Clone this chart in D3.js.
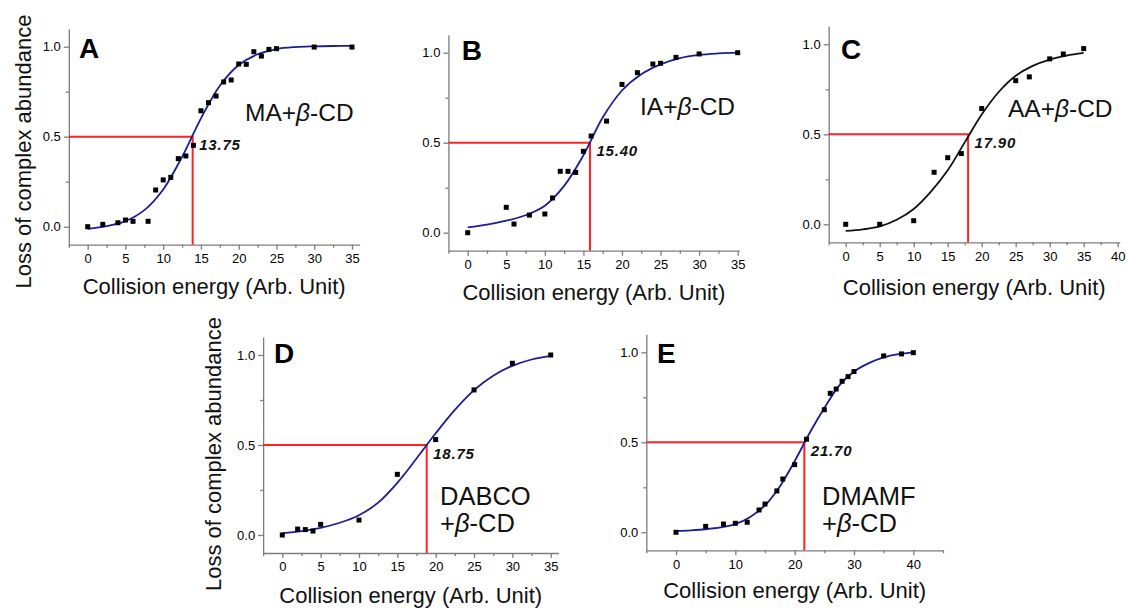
<!DOCTYPE html>
<html>
<head>
<meta charset="utf-8">
<script src="https://cdn.jsdelivr.net/npm/d3@7"></script>
<style>
  html, body { margin: 0; padding: 0; background: #fff; }
  svg { display: block; font-family: "Liberation Sans", Arial, Helvetica, sans-serif; }
  .axis path, .axis line { stroke: #7c7c7c; stroke-width: 1.3px; }
  .axis text { fill: #000; font-size: 13px; }
</style>
</head>
<body>
<svg id="chart" width="1127" height="609"></svg>
<script>
'use strict';

var panelIds = ['A', 'B', 'C', 'D', 'E'];

var energyA = [0, 2, 4, 5, 6, 8, 9, 10, 11, 12, 13, 14, 15, 16, 17, 18, 19, 20, 21, 22, 23, 24, 25, 30, 35];
var lossA = [0.0, 0.013, 0.022, 0.037, 0.03, 0.03, 0.204, 0.26, 0.274, 0.378, 0.393, 0.452, 0.644, 0.689,
  0.726, 0.804, 0.815, 0.904, 0.902, 0.972, 0.948, 0.985, 0.989, 0.998, 0.998];

var energyB = [0, 5, 6, 8, 10, 11, 12, 13, 14, 15, 16, 18, 20, 22, 24, 25, 27, 30, 35];
var lossB = [0.0, 0.141, 0.048, 0.098, 0.104, 0.193, 0.341, 0.341, 0.335, 0.452, 0.537, 0.62, 0.824,
  0.889, 0.937, 0.941, 0.974, 0.993, 1.0];

var energyC = [0, 5, 10, 13, 15, 17, 20, 25, 27, 30, 32, 35];
var lossC = [0.0, 0.0, 0.02, 0.289, 0.37, 0.393, 0.643, 0.798, 0.819, 0.919, 0.946, 0.976];

var energyD = [0, 2, 3, 4, 5, 10, 15, 20, 25, 30, 35];
var lossD = [0.0, 0.033, 0.03, 0.022, 0.059, 0.083, 0.337, 0.53, 0.806, 0.954, 1.0];

var energyE = [0, 5, 8, 10, 12, 14, 15, 17, 18, 20, 22, 25, 26, 27, 28, 29, 30, 35, 38, 40];
var lossE = [0.0, 0.033, 0.046, 0.05, 0.056, 0.124, 0.157, 0.23, 0.296, 0.376, 0.517, 0.681, 0.772,
  0.796, 0.839, 0.865, 0.893, 0.98, 0.991, 0.998];

// fitted sigmoid curves, sampled from the figure
var fitEnergy = [0, 2.5, 5, 7.5, 10, 12.5, 15, 17.5, 20, 22.5, 25, 27.5, 30, 32.5, 35];
var fitEnergyE = [0, 2.5, 5, 7.5, 10, 12.5, 15, 17.5, 20, 22.5, 25, 27.5, 30, 32.5, 35, 37.5, 40];
var fitA = [-0.012, 0.003, 0.031, 0.092, 0.207, 0.388, 0.602, 0.783, 0.898, 0.958, 0.987, 0.998, 1.002, 1.004, 1.005];
var fitB = [0.03, 0.045, 0.067, 0.097, 0.15, 0.26, 0.43, 0.64, 0.79, 0.88, 0.935, 0.97, 0.988, 0.996, 1.0];
var fitC = [-0.037, -0.028, -0.012, 0.025, 0.085, 0.18, 0.3, 0.455, 0.61, 0.735, 0.825, 0.88, 0.915, 0.937, 0.952];
var fitD = [0.01, 0.022, 0.04, 0.068, 0.11, 0.18, 0.29, 0.425, 0.565, 0.695, 0.805, 0.885, 0.94, 0.975, 0.995];
var fitE = [0.007, 0.011, 0.017, 0.027, 0.045, 0.085, 0.15, 0.255, 0.395, 0.55, 0.69, 0.815, 0.893, 0.94, 0.972, 0.99, 1.0];

// half-loss energies: where the red guides cross, and the printed value
var halfEnergy = [13.9, 15.85, 18.0, 18.83, 21.63];
var halfLabels = ['13.75', '15.40', '17.90', '18.75', '21.70'];

var systemLabels = [['MA+β-CD'], ['IA+β-CD'], ['AA+β-CD'], ['DABCO', '+β-CD'], ['DMAMF', '+β-CD']];

var xTicks5 = [0, 5, 10, 15, 20, 25, 30, 35];
var xTicksC = [0, 5, 10, 15, 20, 25, 30, 35, 40];
var xTicksE = [0, 10, 20, 30, 40];
var yTicks = [0, 0.5, 1.0];
var yMinor = [0.25, 0.75];

var xTitle = 'Collision energy (Arb. Unit)';
var yTitle = 'Loss of complex abundance';

// ---- layout (pixels) ----
var layout = [
  { x0: 87.7, ppu: 7.551, y0: 226.7, y1: 46.7, xDom: [-2.5, 36], step: 2.5, ticks: xTicks5,
    titleY: 294, yLabel: [30.5, 151.5], letter: [79, 58.3], sys: [245, 120.7], sysSize: 24.5, curve: '#1d1d94' },
  { x0: 467.7, ppu: 7.714, y0: 232.7, y1: 52.7, xDom: [-2.5, 35.2], step: 2.5, ticks: xTicks5,
    titleY: 300, yLabel: null, letter: [461.7, 60], sys: [640, 115], sysSize: 24.5, curve: '#1d1d94' },
  { x0: 845.7, ppu: 6.8, y0: 224.3, y1: 44.3, xDom: [-2.5, 40.3], step: 2.5, ticks: xTicksC,
    titleY: 295, yLabel: null, letter: [841, 59.3], sys: [1008, 117.3], sysSize: 24.5, curve: '#111' },
  { x0: 282.3, ppu: 7.669, y0: 535, y1: 355, xDom: [-2.5, 36], step: 2.5, ticks: xTicks5,
    titleY: 603, yLabel: [220.7, 454], letter: [274, 363], sys: [440, 505], sysSize: 25.5, curve: '#1d1d94' },
  { x0: 676, ppu: 5.933, y0: 532.3, y1: 352.3, xDom: [-5, 45], step: 5, ticks: xTicksE,
    titleY: 598, yLabel: null, letter: [657, 363], sys: [822, 505], sysSize: 25.5, curve: '#1d1d94' }
];

var series = [
  { energy: energyA, loss: lossA, fitX: fitEnergy, fitY: fitA },
  { energy: energyB, loss: lossB, fitX: fitEnergy, fitY: fitB },
  { energy: energyC, loss: lossC, fitX: fitEnergy, fitY: fitC },
  { energy: energyD, loss: lossD, fitX: fitEnergy, fitY: fitD },
  { energy: energyE, loss: lossE, fitX: fitEnergyE, fitY: fitE }
];

var svg = d3.select('#chart');

var drawPanel = function (i) {
  var lay = layout[i],
      s = series[i],
      g, x, y, minor, line, pts;

  x = d3.scaleLinear()
      .domain(lay.xDom)
      .range([lay.x0 + lay.xDom[0] * lay.ppu, lay.x0 + lay.xDom[1] * lay.ppu]);
  y = d3.scaleLinear()
      .domain([0, 1])
      .range([lay.y0, lay.y1]);

  g = svg.append('g').attr('class', 'panel panel-' + panelIds[i]);

  // minor x ticks
  minor = [];
  for (var v = lay.xDom[0]; v <= lay.xDom[1] + 1e-6; v += lay.step) {
    if (lay.ticks.indexOf(v) < 0) { minor.push(v); }
  }

  g.append('g').attr('class', 'axis')
      .attr('transform', 'translate(0,' + y(-0.1) + ')')
      .call(d3.axisBottom(x).tickValues(minor).tickSize(3).tickSizeOuter(0).tickFormat(''));
  g.append('g').attr('class', 'axis')
      .attr('transform', 'translate(0,' + y(-0.1) + ')')
      .call(d3.axisBottom(x).tickValues(lay.ticks).tickSize(5).tickSizeOuter(0).tickPadding(4).tickFormat(d3.format('d')))
      .call(function (a) { a.select('.domain').remove(); });

  g.append('g').attr('class', 'axis')
      .attr('transform', 'translate(' + x(lay.xDom[0]) + ',0)')
      .call(d3.axisLeft(y.copy().domain([-0.1, 1.1]).range([y(-0.1), y(1.1)]))
        .tickValues(yMinor).tickSize(3).tickSizeOuter(0).tickFormat(''));
  g.append('g').attr('class', 'axis')
      .attr('transform', 'translate(' + x(lay.xDom[0]) + ',0)')
      .call(d3.axisLeft(y).tickValues(yTicks).tickSize(5).tickSizeOuter(0).tickPadding(3).tickFormat(d3.format('.1f')))
      .call(function (a) { a.select('.domain').remove(); });

  // red guides at half loss
  g.append('path')
      .attr('fill', 'none')
      .attr('stroke', '#ff2222')
      .attr('stroke-width', 2)
      .attr('d', 'M' + x(lay.xDom[0]) + ',' + y(0.5) +
        'H' + x(halfEnergy[i]) + 'V' + y(-0.1));

  // fitted curve
  line = d3.line()
      .x(function (d) { return x(d[0]); })
      .y(function (d) { return y(d[1]); })
      .curve(d3.curveCatmullRom.alpha(0.5));
  g.append('path')
      .datum(d3.zip(s.fitX, s.fitY))
      .attr('fill', 'none')
      .attr('stroke', lay.curve)
      .attr('stroke-width', 1.8)
      .attr('d', line);

  // data points
  pts = d3.zip(s.energy, s.loss);
  g.selectAll('rect.pt').data(pts).enter().append('rect')
      .attr('class', 'pt')
      .attr('x', function (d) { return x(d[0]) - 2.5; })
      .attr('y', function (d) { return y(d[1]) - 2.5; })
      .attr('width', 5)
      .attr('height', 5)
      .attr('fill', '#000');

  // half value label
  g.append('text')
      .attr('x', x(halfEnergy[i]) + 6.5)
      .attr('y', y(0.5) + 13.5)
      .attr('font-size', 15)
      .attr('font-weight', 'bold')
      .attr('font-style', 'italic')
      .attr('letter-spacing', 0.8)
      .attr('fill', '#111')
      .text(halfLabels[i]);

  // panel letter
  g.append('text')
      .attr('x', lay.letter[0])
      .attr('y', lay.letter[1])
      .attr('font-size', 28)
      .attr('font-weight', 'bold')
      .attr('fill', '#000')
      .text(panelIds[i]);

  // system label, beta in italics
  systemLabels[i].forEach(function (str, k) {
    var t = g.append('text')
        .attr('x', lay.sys[0])
        .attr('y', lay.sys[1] + k * 27)
        .attr('font-size', lay.sysSize)
        .attr('fill', '#111');
    str.split('β').forEach(function (part, j) {
      if (j > 0) { t.append('tspan').attr('font-style', 'italic').text('β'); }
      t.append('tspan').text(part);
    });
  });

  // axis titles
  g.append('text')
      .attr('x', (x.range()[0] + x.range()[1]) / 2)
      .attr('y', lay.titleY)
      .attr('text-anchor', 'middle')
      .attr('font-size', 22)
      .attr('fill', '#111')
      .text(xTitle);

  if (lay.yLabel) {
    g.append('text')
        .attr('transform', 'translate(' + lay.yLabel[0] + ',' + lay.yLabel[1] + ') rotate(-90)')
        .attr('text-anchor', 'middle')
        .attr('font-size', 22)
        .attr('fill', '#111')
        .text(yTitle);
  }
};

panelIds.forEach(function (id, i) {
  drawPanel(i);
});
</script>
</body>
</html>
